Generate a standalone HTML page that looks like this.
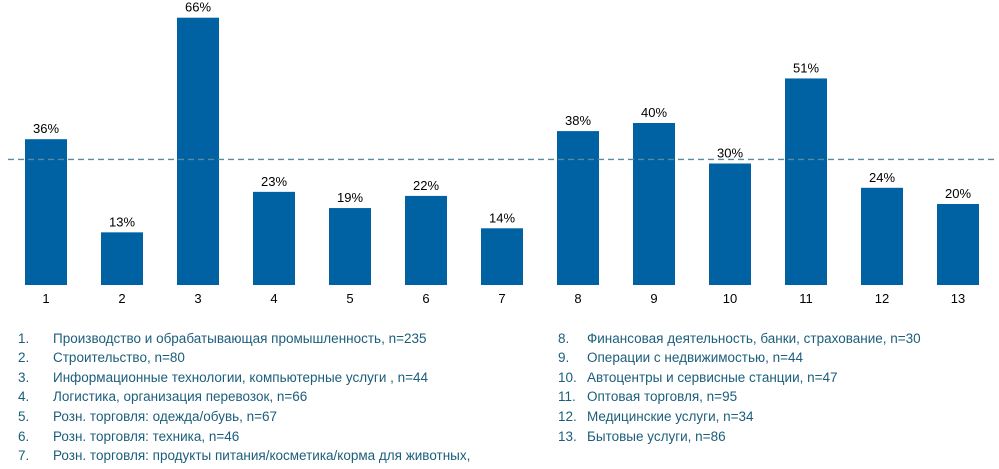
<!DOCTYPE html>
<html><head><meta charset="utf-8"><style>
body{margin:0;background:#fff;width:999px;height:469px;overflow:hidden;font-family:"Liberation Sans",sans-serif}
.lg{position:absolute;font-size:13.5px;color:#1b5e7b;white-space:nowrap}
</style></head><body>
<svg id="c" width="999" height="310" style="position:absolute;left:0;top:0"></svg>
<div id="legend"></div>
<script>
const categories=["1","2","3","4","5","6","7","8","9","10","11","12","13"];
const values=[36,13,66,23,19,22,14,38,40,30,51,24,20];
const average=[31];
const names=["Производство и обрабатывающая промышленность, n=235","Строительство, n=80","Информационные технологии, компьютерные услуги , n=44","Логистика, организация перевозок, n=66","Розн. торговля: одежда/обувь, n=67","Розн. торговля: техника, n=46","Розн. торговля: продукты питания/косметика/корма для животных,","Финансовая деятельность, банки, страхование, n=30","Операции с недвижимостью, n=44","Автоцентры и сервисные станции, n=47","Оптовая торговля, n=95","Медицинские услуги, n=34","Бытовые услуги, n=86"];
const NS="http://www.w3.org/2000/svg";
const svg=document.getElementById('c');
const base=285,k=4.05,x0=46,step=76.0,bw=42;
const y=v=>base-v*k, x=i=>x0+i*step;
function mk(t,a){const e=document.createElementNS(NS,t);for(const n in a)e.setAttribute(n,a[n]);svg.appendChild(e);return e;}
values.forEach((v,i)=>{
 const r=mk('rect',{x:x(i)-bw/2,y:y(v),width:bw,height:v*k,fill:'#0062a2'});
 
 
 const t=mk('text',{x:x(i),y:y(v)-6,'text-anchor':'middle','font-size':'13',fill:'#000'});
 t.textContent=v+'%';
 
 
 const c=mk('text',{x:x(i),y:303,'text-anchor':'middle','font-size':'13',fill:'#000'});
 c.textContent=categories[i];
 
 
});
const l=mk('line',{x1:8,x2:997,y1:y(average[0]),y2:y(average[0]),stroke:'#5a8aa0','stroke-width':1.3,'stroke-dasharray':'6,4'});


const lg=document.getElementById('legend');
const rows=[339,358,378,397,417,437,456];
names.forEach((n,i)=>{
 const col=i<7?0:1,r=col?i-7:i;
 const a=document.createElement('div');a.className='lg';
 a.style.left=(col?558:18)+'px';a.style.top=(rows[r]-8)+'px';a.textContent=(i+1)+'.';
 
 
 lg.appendChild(a);
 const b=document.createElement('div');b.className='lg';
 b.style.left=(col?587:53)+'px';b.style.top=(rows[r]-8)+'px';b.textContent=n;
 
 
 lg.appendChild(b);
});
</script>
</body></html>
